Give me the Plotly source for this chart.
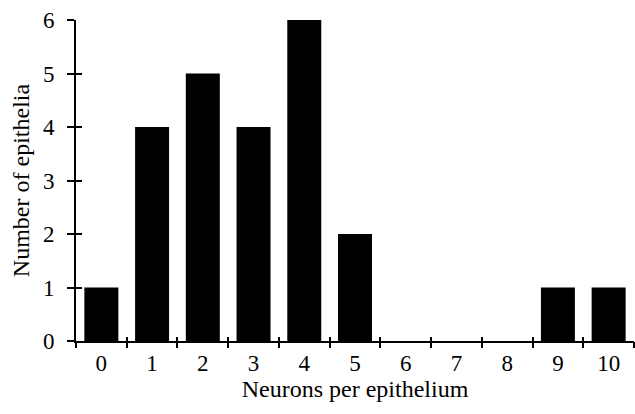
import plotly.graph_objects as go

categories = [0, 1, 2, 3, 4, 5, 6, 7, 8, 9, 10]
counts = [1, 4, 5, 4, 6, 2, 0, 0, 0, 1, 1]
x_tick_labels = [str(c) for c in categories]
y_ticks = [0, 1, 2, 3, 4, 5, 6]
boundaries = [c - 0.5 for c in categories] + [categories[-1] + 0.5]

FONT = "Liberation Serif"

fig = go.Figure()
fig.add_trace(go.Bar(x=categories, y=counts, marker=dict(color="black", line=dict(width=0)),
                     showlegend=False, hoverinfo="skip"))
# invisible helpers so the overlay axes (tick marks) are drawn
fig.add_trace(go.Scatter(x=[categories[0]], y=[0], xaxis="x2", yaxis="y2", mode="markers",
                         marker=dict(opacity=0), showlegend=False, hoverinfo="skip"))
fig.add_trace(go.Scatter(x=[categories[0]], y=[0], xaxis="x3", yaxis="y2", mode="markers",
                         marker=dict(opacity=0), showlegend=False, hoverinfo="skip"))

xr = [categories[0] - 0.5, categories[-1] + 0.5]
fig.update_layout(
    template="none",
    width=635, height=414,
    margin=dict(l=76, r=1, t=20, b=73),
    paper_bgcolor="white", plot_bgcolor="white",
    font=dict(family=FONT, size=24, color="black"),
    bargap=0.33,
    xaxis=dict(range=xr, tickmode="array", tickvals=categories, ticktext=x_tick_labels,
               ticks="", ticklabelstandoff=0, automargin=False,
               showline=True, linewidth=2, linecolor="black", showgrid=False, zeroline=False,
               tickfont=dict(size=23),
               title=dict(text="Neurons per epithelium", font=dict(size=24), standoff=6)),
    xaxis2=dict(range=xr, overlaying="x", anchor="y", side="bottom", tickmode="array",
                tickvals=boundaries, showticklabels=False, ticks="outside", ticklen=6,
                tickwidth=2, tickcolor="black", showline=False, showgrid=False, zeroline=False,
                automargin=False),
    xaxis3=dict(range=xr, overlaying="x", anchor="y", side="bottom", tickmode="array",
                tickvals=boundaries, showticklabels=False, ticks="inside", ticklen=4,
                tickwidth=2, tickcolor="black", showline=False, showgrid=False, zeroline=False,
                automargin=False),
    yaxis=dict(range=[0, 6], tickmode="array", tickvals=y_ticks,
               ticks="outside", ticklen=7, tickwidth=2, tickcolor="black",
               ticklabelstandoff=8, automargin=False,
               showline=True, linewidth=2, linecolor="black", showgrid=False, zeroline=False,
               tickfont=dict(size=23),
               title=dict(text="Number of epithelia", font=dict(size=24), standoff=7)),
    yaxis2=dict(range=[0, 6], overlaying="y", anchor="x", side="left", tickmode="array",
                tickvals=y_ticks, showticklabels=False, ticks="inside", ticklen=6,
                tickwidth=2, tickcolor="black", showline=False, showgrid=False, zeroline=False,
                automargin=False),
)

fig.write_html("out.html", config={"displayModeBar": False},
               post_script="document.body.style.margin='0';")
